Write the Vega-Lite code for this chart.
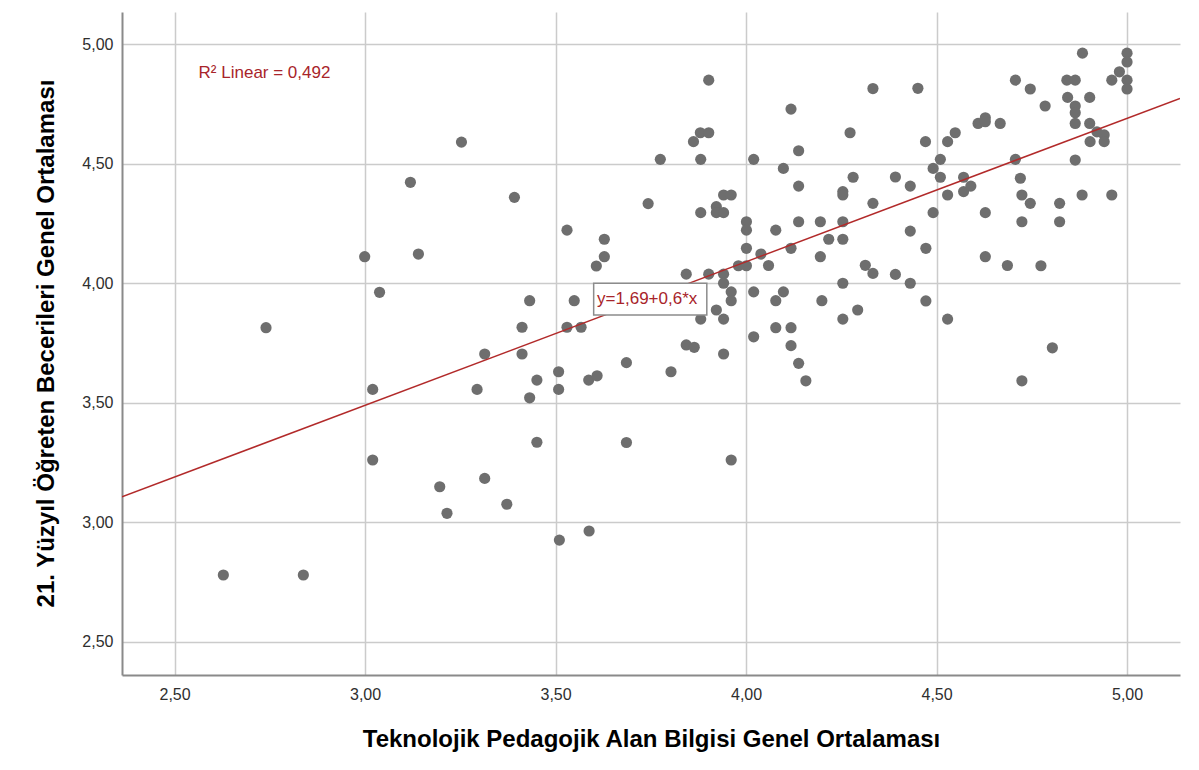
{
  "$schema": "https://vega.github.io/schema/vega-lite/v6.json",
  "width": 1058,
  "height": 663,
  "autosize": "none",
  "padding": {"left": 122, "top": 12, "right": 19, "bottom": 95},
  "background": "white",
  "config": {
    "view": {"stroke": null},
    "font": "Liberation Sans",
    "axis": {
      "grid": true,
      "gridColor": "#cbcbcb",
      "gridWidth": 1.5,
      "domainColor": "#8a8a8a",
      "domainWidth": 2,
      "ticks": false,
      "tickSize": 0,
      "labelFont": "Liberation Sans",
      "labelFontSize": 16,
      "labelColor": "#2e2e2e",
      "titleFont": "Liberation Sans",
      "titleFontSize": 24,
      "titleFontWeight": "bold",
      "titleColor": "#000000"
    }
  },
  "data": {
    "values": [
      {"x": 2.628, "y": 2.780}, {"x": 2.740, "y": 3.814}, {"x": 2.838, "y": 2.780}, {"x": 2.999, "y": 4.111},
      {"x": 3.038, "y": 3.962}, {"x": 3.020, "y": 3.556}, {"x": 3.020, "y": 3.261}, {"x": 3.119, "y": 4.422},
      {"x": 3.140, "y": 4.122}, {"x": 3.196, "y": 3.149}, {"x": 3.215, "y": 3.038}, {"x": 3.253, "y": 4.590},
      {"x": 3.314, "y": 3.704}, {"x": 3.294, "y": 3.556}, {"x": 3.314, "y": 3.184}, {"x": 3.372, "y": 3.076},
      {"x": 3.392, "y": 4.359}, {"x": 3.412, "y": 3.816}, {"x": 3.412, "y": 3.704}, {"x": 3.432, "y": 3.927},
      {"x": 3.432, "y": 3.521}, {"x": 3.451, "y": 3.595}, {"x": 3.451, "y": 3.335}, {"x": 3.508, "y": 3.630},
      {"x": 3.508, "y": 3.556}, {"x": 3.510, "y": 2.926}, {"x": 3.530, "y": 4.222}, {"x": 3.530, "y": 3.816},
      {"x": 3.549, "y": 3.927}, {"x": 3.567, "y": 3.816}, {"x": 3.587, "y": 3.595}, {"x": 3.588, "y": 2.964},
      {"x": 3.609, "y": 3.613}, {"x": 3.607, "y": 4.072}, {"x": 3.628, "y": 4.184}, {"x": 3.628, "y": 4.111},
      {"x": 3.686, "y": 3.668}, {"x": 3.686, "y": 3.334}, {"x": 3.743, "y": 4.333}, {"x": 3.775, "y": 4.518},
      {"x": 3.803, "y": 3.630}, {"x": 3.843, "y": 4.038}, {"x": 3.843, "y": 3.742}, {"x": 3.864, "y": 3.732},
      {"x": 3.862, "y": 4.592}, {"x": 3.880, "y": 4.629}, {"x": 3.902, "y": 4.629}, {"x": 3.881, "y": 4.518},
      {"x": 3.902, "y": 4.849}, {"x": 3.881, "y": 4.295}, {"x": 3.902, "y": 4.038}, {"x": 3.881, "y": 3.850},
      {"x": 3.922, "y": 3.888}, {"x": 3.922, "y": 4.320}, {"x": 3.922, "y": 4.295}, {"x": 3.941, "y": 4.295},
      {"x": 3.941, "y": 4.369}, {"x": 3.961, "y": 4.369}, {"x": 3.941, "y": 4.038}, {"x": 3.941, "y": 4.000},
      {"x": 3.941, "y": 3.850}, {"x": 3.961, "y": 3.964}, {"x": 3.961, "y": 3.927}, {"x": 3.941, "y": 3.704},
      {"x": 3.961, "y": 3.261}, {"x": 3.980, "y": 4.073}, {"x": 4.001, "y": 4.257}, {"x": 4.001, "y": 4.222},
      {"x": 4.001, "y": 4.146}, {"x": 4.001, "y": 4.073}, {"x": 4.020, "y": 4.518}, {"x": 4.020, "y": 3.964},
      {"x": 4.020, "y": 3.776}, {"x": 4.039, "y": 4.122}, {"x": 4.059, "y": 4.074}, {"x": 4.078, "y": 4.222},
      {"x": 4.078, "y": 3.927}, {"x": 4.078, "y": 3.814}, {"x": 4.098, "y": 4.480}, {"x": 4.098, "y": 3.964},
      {"x": 4.118, "y": 4.728}, {"x": 4.118, "y": 4.146}, {"x": 4.118, "y": 3.814}, {"x": 4.118, "y": 3.739},
      {"x": 4.138, "y": 4.554}, {"x": 4.138, "y": 4.406}, {"x": 4.138, "y": 4.257}, {"x": 4.138, "y": 3.665},
      {"x": 4.157, "y": 3.592}, {"x": 4.195, "y": 4.257}, {"x": 4.195, "y": 4.111}, {"x": 4.199, "y": 3.927},
      {"x": 4.217, "y": 4.184}, {"x": 4.254, "y": 4.383}, {"x": 4.254, "y": 4.369}, {"x": 4.254, "y": 4.257},
      {"x": 4.254, "y": 4.184}, {"x": 4.254, "y": 4.000}, {"x": 4.254, "y": 3.850}, {"x": 4.273, "y": 4.629},
      {"x": 4.281, "y": 4.443}, {"x": 4.293, "y": 3.888}, {"x": 4.313, "y": 4.075}, {"x": 4.333, "y": 4.334},
      {"x": 4.333, "y": 4.041}, {"x": 4.333, "y": 4.814}, {"x": 4.392, "y": 4.444}, {"x": 4.392, "y": 4.037},
      {"x": 4.431, "y": 4.406}, {"x": 4.431, "y": 4.218}, {"x": 4.431, "y": 4.000}, {"x": 4.451, "y": 4.815},
      {"x": 4.471, "y": 4.592}, {"x": 4.472, "y": 4.146}, {"x": 4.472, "y": 3.926}, {"x": 4.491, "y": 4.480},
      {"x": 4.491, "y": 4.295}, {"x": 4.510, "y": 4.518}, {"x": 4.510, "y": 4.443}, {"x": 4.529, "y": 4.369},
      {"x": 4.529, "y": 4.592}, {"x": 4.529, "y": 3.850}, {"x": 4.549, "y": 4.629}, {"x": 4.571, "y": 4.443},
      {"x": 4.571, "y": 4.383}, {"x": 4.590, "y": 4.406}, {"x": 4.609, "y": 4.668}, {"x": 4.628, "y": 4.692},
      {"x": 4.628, "y": 4.675}, {"x": 4.628, "y": 4.295}, {"x": 4.628, "y": 4.111}, {"x": 4.667, "y": 4.668},
      {"x": 4.686, "y": 4.074}, {"x": 4.707, "y": 4.849}, {"x": 4.707, "y": 4.518}, {"x": 4.720, "y": 4.439},
      {"x": 4.724, "y": 4.369}, {"x": 4.724, "y": 4.257}, {"x": 4.724, "y": 3.592}, {"x": 4.746, "y": 4.334},
      {"x": 4.746, "y": 4.812}, {"x": 4.785, "y": 4.741}, {"x": 4.774, "y": 4.073}, {"x": 4.804, "y": 3.730},
      {"x": 4.823, "y": 4.334}, {"x": 4.823, "y": 4.257}, {"x": 4.844, "y": 4.777}, {"x": 4.842, "y": 4.849},
      {"x": 4.864, "y": 4.849}, {"x": 4.864, "y": 4.741}, {"x": 4.864, "y": 4.713}, {"x": 4.864, "y": 4.668},
      {"x": 4.864, "y": 4.515}, {"x": 4.882, "y": 4.369}, {"x": 4.883, "y": 4.962}, {"x": 4.902, "y": 4.777},
      {"x": 4.902, "y": 4.668}, {"x": 4.903, "y": 4.592}, {"x": 4.921, "y": 4.633}, {"x": 4.940, "y": 4.620},
      {"x": 4.940, "y": 4.592}, {"x": 4.960, "y": 4.849}, {"x": 4.960, "y": 4.369}, {"x": 4.980, "y": 4.884},
      {"x": 5.000, "y": 4.962}, {"x": 5.000, "y": 4.925}, {"x": 5.000, "y": 4.849}, {"x": 5.000, "y": 4.812}
    ]
  },
  "layer": [
    {
      "mark": {"type": "circle", "size": 125, "color": "#6e6e6e", "opacity": 1},
      "encoding": {
        "x": {
          "field": "x", "type": "quantitative",
          "scale": {"domain": [2.362, 5.139], "nice": false, "zero": false},
          "axis": {
            "values": [2.5, 3, 3.5, 4, 4.5, 5],
            "labelExpr": "replace(format(datum.value, '.2f'), '.', ',')",
            "labelPadding": 11,
            "title": "Teknolojik Pedagojik Alan Bilgisi Genel Ortalaması",
            "titleBaseline": "alphabetic",
            "titleY": 71
          }
        },
        "y": {
          "field": "y", "type": "quantitative",
          "scale": {"domain": [2.362, 5.134], "nice": false, "zero": false},
          "axis": {
            "values": [2.5, 3, 3.5, 4, 4.5, 5],
            "labelExpr": "replace(format(datum.value, '.2f'), '.', ',')",
            "labelPadding": 9,
            "title": "21. Yüzyıl Öğreten Becerileri Genel Ortalaması",
            "titleBaseline": "middle",
            "titleX": -76,
            "titleY": 331
          }
        }
      }
    },
    {
      "data": {"values": [{"x": 2.362, "y": 3.107}, {"x": 5.139, "y": 4.773}]},
      "mark": {"type": "line", "color": "#b22a2a", "strokeWidth": 1.5, "clip": true},
      "encoding": {
        "x": {"field": "x", "type": "quantitative"},
        "y": {"field": "y", "type": "quantitative"}
      }
    },
    {
      "data": {"values": [{"x": 3.600, "x2": 3.897, "y": 3.867, "y2": 4.000}]},
      "mark": {"type": "rect", "fill": "white", "stroke": "#8c8c8c", "strokeWidth": 1.5},
      "encoding": {
        "x": {"field": "x", "type": "quantitative"},
        "x2": {"field": "x2"},
        "y": {"field": "y", "type": "quantitative"},
        "y2": {"field": "y2"}
      }
    },
    {
      "data": {"values": [{"x": 3.609, "y": 3.934, "label": "y=1,69+0,6*x"}, {"x": 2.563, "y": 4.877, "label": "R² Linear = 0,492"}]},
      "mark": {"type": "text", "align": "left", "baseline": "middle", "color": "#a8242a", "fontSize": 17, "font": "Liberation Sans"},
      "encoding": {
        "x": {"field": "x", "type": "quantitative"},
        "y": {"field": "y", "type": "quantitative"},
        "text": {"field": "label"}
      }
    }
  ]
}
